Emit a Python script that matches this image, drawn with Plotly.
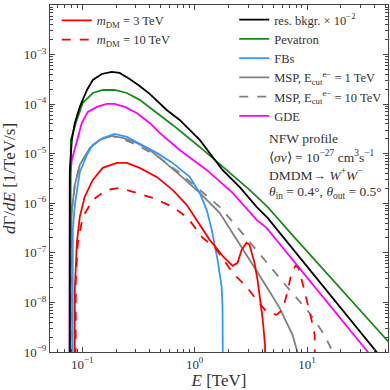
import plotly.graph_objects as go

# energies in TeV, fluxes dGamma/dE in 1/TeV/s
E_bkg = [0.0772, 0.0774, 0.0807, 0.0858, 0.0950, 0.110, 0.124, 0.149, 0.183, 0.215,
         0.264, 0.324, 0.398, 0.564, 0.736, 1.11, 1.77, 2.51, 3.56, 4.46, 6.99, 41.5, 60.0]
F_bkg = [1e-12, 4.71e-6, 1.90e-5, 4.18e-5, 8.79e-5, 1.93e-4, 3.08e-4, 4.06e-4, 4.46e-4, 4.26e-4,
         3.22e-4, 2.33e-4, 1.61e-4, 7.64e-5, 4.80e-5, 1.90e-5, 4.71e-6, 2.14e-6, 8.46e-7, 5.08e-7,
         1.45e-7, 1.01e-9, 3.6e-10]

E_pev = [0.0775, 0.0790, 0.0894, 0.101, 0.124, 0.152, 0.194, 0.249, 0.324, 0.423, 0.637,
         1.11, 1.92, 3.08, 4.46, 6.99, 53.0, 60.0]
F_pev = [1e-12, 1.90e-5, 4.80e-5, 1.06e-4, 1.68e-4, 1.93e-4, 1.93e-4, 1.68e-4, 1.22e-4, 7.64e-5,
         3.81e-5, 1.37e-5, 4.71e-6, 1.86e-6, 8.46e-7, 2.65e-7, 1.61e-9, 1.16e-9]

E_fb = [0.0815, 0.0823, 0.0858, 0.0912, 0.0950, 0.110, 0.124, 0.152, 0.194, 0.249, 0.324,
        0.459, 0.637, 0.903, 1.11, 1.28, 1.42, 1.51, 1.60, 1.74, 1.77, 1.81]
F_fb = [1e-12, 2.91e-7, 9.29e-7, 2.35e-6, 4.30e-6, 9.46e-6, 1.51e-5, 2.08e-5, 2.51e-5, 2.18e-5,
        1.58e-5, 1.04e-5, 6.53e-6, 3.41e-6, 1.62e-6, 7.36e-7, 2.91e-7, 1.45e-7, 7.23e-8, 2.06e-8,
        8.15e-9, 1e-12]

E_msp1 = [0.0782, 0.0790, 0.0807, 0.0858, 0.0950, 0.117, 0.143, 0.183, 0.229, 0.305, 0.398,
          0.489, 0.736, 1.11, 1.67, 2.27, 3.08, 4.37, 5.70, 7.43, 8.23, 9.12]
F_msp1 = [1e-12, 1.83e-7, 7.36e-7, 2.35e-6, 5.95e-6, 1.31e-5, 1.90e-5, 2.28e-5, 2.08e-5, 1.65e-5,
          1.19e-5, 8.23e-6, 3.74e-6, 1.62e-6, 6.40e-7, 2.20e-7, 7.23e-8, 2.06e-8, 7.78e-9, 2.22e-9,
          1.01e-9, 4.4e-10]

E_msp10 = [0.0782, 0.0790, 0.0807, 0.0858, 0.0950, 0.117, 0.143, 0.183, 0.229, 0.305, 0.398,
           0.489, 0.736, 1.11, 1.67, 2.51, 4.37, 6.99, 10.5, 14.3, 16.9, 19.4]
F_msp10 = [1e-12, 1.83e-7, 7.36e-7, 2.35e-6, 5.95e-6, 1.31e-5, 1.90e-5, 2.28e-5, 1.99e-5, 1.51e-5,
           1.09e-5, 8.23e-6, 4.10e-6, 1.86e-6, 8.46e-7, 2.91e-7, 6.28e-8, 1.80e-8, 6.17e-9, 2.22e-9,
           1.01e-9, 3.5e-10]

E_gde = [0.0766, 0.0774, 0.0807, 0.0894, 0.0990, 0.112, 0.135, 0.165, 0.194, 0.239, 0.305,
         0.398, 0.489, 0.736, 1.28, 2.18, 3.56, 4.37, 6.99, 34.5, 60.0]
F_gde = [1e-12, 3.0e-6, 7.5e-6, 1.90e-5, 4.18e-5, 6.97e-5, 8.79e-5, 1.01e-4, 1.01e-4, 8.79e-5,
         6.65e-5, 4.18e-5, 2.63e-5, 1.19e-5, 4.71e-6, 1.62e-6, 4.63e-7, 3.19e-7, 8.71e-8, 1.01e-9,
         2.2e-10]

E_dm3 = [0.0849, 0.0858, 0.0894, 0.0950, 0.105, 0.124, 0.152, 0.203, 0.249, 0.324, 0.459,
         0.637, 0.849, 1.11, 1.36, 1.51, 1.77, 2.18, 2.41, 2.62, 2.90, 3.08, 3.41, 3.63, 3.86,
         4.02, 4.23, 4.32]
F_dm3 = [1e-12, 1.80e-8, 1.59e-7, 5.32e-7, 1.35e-6, 2.96e-6, 5.18e-6, 6.53e-6, 6.53e-6, 5.18e-6,
         3.41e-6, 1.86e-6, 9.29e-7, 3.67e-7, 1.83e-7, 1.38e-7, 8.71e-8, 5.47e-8, 6.28e-8, 1.15e-7,
         1.59e-7, 1.45e-7, 6.28e-8, 2.86e-8, 1.13e-8, 4.9e-9, 1.40e-9, 1e-12]

E_dm10 = [0.0867, 0.0876, 0.0912, 0.101, 0.124, 0.165, 0.215, 0.281, 0.423, 0.637, 0.867,
          1.18, 1.51, 2.18, 2.90, 3.56, 4.37, 5.36, 6.06, 6.71, 7.28, 7.90, 8.40, 9.12, 10.1,
          10.96, 11.7, 11.9]
F_dm10 = [1e-12, 2.86e-8, 1.59e-7, 5.32e-7, 1.17e-6, 1.86e-6, 2.04e-6, 1.70e-6, 1.29e-6, 8.46e-7,
          5.08e-7, 2.0e-7, 1.30e-7, 3.95e-8, 2.06e-8, 1.13e-8, 6.45e-9, 5.62e-9, 7.09e-9, 1.64e-8,
          3.95e-8, 5.47e-8, 4.99e-8, 2.48e-8, 9.81e-9, 4.46e-9, 2.22e-9, 1e-12]

SERIF = "Liberation Serif"
TXT = "#333333"
AX = "#444444"

fig = go.Figure()


def add(x, y, name, color, dash="solid", legend="legend2", rank=1):
    fig.add_trace(go.Scatter(x=x, y=y, mode="lines", name=name, legend=legend, legendrank=rank,
                             line=dict(color=color, width=1.8, dash=dash)))


add(E_msp1, F_msp1, "MSP, E<sub>cut</sub><sup>e−</sup> = 1 TeV", "#808080", rank=4)
add(E_msp10, F_msp10, "MSP, E<sub>cut</sub><sup>e−</sup> = 10 TeV", "#808080", "dash", rank=5)
add(E_fb, F_fb, "FBs", "#3399ff", rank=3)
add(E_gde, F_gde, "GDE", "#ff00ff", rank=6)
add(E_pev, F_pev, "Pevatron", "#1a8a1a", rank=2)
add(E_bkg, F_bkg, "res. bkgr. × 10<sup>−2</sup>", "black", rank=1)
add(E_dm3, F_dm3, "<i>m</i><sub>DM</sub> = 3 TeV", "red", legend="legend", rank=1)
add(E_dm10, F_dm10, "<i>m</i><sub>DM</sub> = 10 TeV", "red", "dash", legend="legend", rank=2)

x_major = [0.1, 1, 10]
x_minor = [m * d for d in [0.01, 0.1, 1, 10] for m in range(2, 10)]
y_major = [10.0 ** k for k in range(-9, -1)]
y_minor = [m * 10.0 ** k for k in range(-9, -2) for m in range(2, 10)]

axis_common = dict(
    type="log", showgrid=False, zeroline=False, automargin=False,
    showline=True, linecolor=AX, linewidth=1, mirror="ticks",
    ticks="inside", ticklen=5, tickwidth=1, tickcolor=AX,
    tickfont=dict(family=SERIF, size=13, color=TXT),
)

fig.update_xaxes(
    **axis_common,
    range=[-1.2875, 1.721],
    tickvals=x_major,
    ticktext=["10<sup>−1</sup>", "10<sup>0</sup>", "10<sup>1</sup>"],
    minor=dict(tickvals=x_minor, ticks="inside", ticklen=3, tickcolor=AX),
    title=dict(text="<i>E</i> [TeV]", font=dict(family=SERIF, size=17, color=TXT), standoff=4),
)
fig.update_yaxes(
    **axis_common,
    range=[-9.0005, -1.9995],
    tickvals=y_major,
    ticktext=[f"10<sup>−{abs(k)}</sup>" for k in range(-9, -1)],
    minor=dict(tickvals=y_minor, ticks="inside", ticklen=3, tickcolor=AX),
    title=dict(text="<i>d</i>Γ/<i>dE</i> [1/TeV/s]", font=dict(family=SERIF, size=17, color=TXT), standoff=4),
)

legend_common = dict(
    bgcolor="rgba(0,0,0,0)", borderwidth=0,
    font=dict(family=SERIF, size=12.5, color=TXT),
    xanchor="left", yanchor="top", tracegroupgap=0, itemwidth=30,
)
fig.update_layout(
    width=390, height=390,
    margin=dict(l=50, r=2, t=5, b=38),
    paper_bgcolor="white", plot_bgcolor="white",
    font=dict(family=SERIF, color=TXT),
    showlegend=True,
    legend=dict(**legend_common, x=0.02, y=0.998),
    legend2=dict(**legend_common, x=0.545, y=1.0),
)

notes = [
    "NFW profile",
    "⟨<i>σv</i>⟩ = 10<sup>−27</sup> cm<sup>3</sup>s<sup>−1</sup>",
    "DMDM→ <i>W</i><sup>+</sup><i>W</i><sup>−</sup>",
    "<i>θ</i><sub>in</sub> = 0.4°, <i>θ</i><sub>out</sub> = 0.5°",
]
for i, t in enumerate(notes):
    fig.add_annotation(
        text=t, xref="paper", yref="paper", x=0.642, y=0.614 - i * 0.051,
        xanchor="left", yanchor="middle", showarrow=False,
        font=dict(family=SERIF, size=13.5, color=TXT),
    )

# drop the browser's default page margin so the 390x390 figure fills the window
fig.write_html("out.html", config={"displayModeBar": False},
               post_script="document.body.style.margin='0';")
